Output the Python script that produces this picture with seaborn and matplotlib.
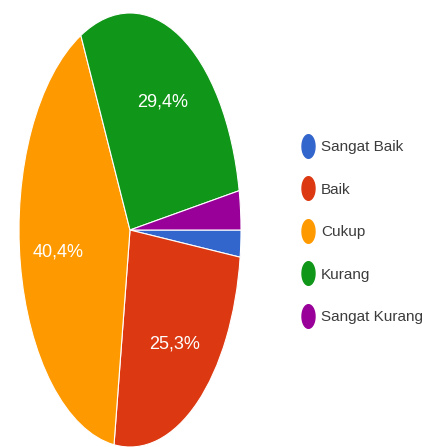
import numpy as np
import matplotlib
matplotlib.use("Agg")
import matplotlib.pyplot as plt
from matplotlib.path import Path
from matplotlib.lines import Line2D
import seaborn as sns

categories = ["Sangat Baik", "Baik", "Cukup", "Kurang", "Sangat Kurang"]
percent = [2.0, 25.3, 40.4, 29.4, 2.9]
colors = ["#3366CC", "#DC3912", "#FF9900", "#109618", "#990099"]

sns.set_theme(style="white")
plt.rcParams["font.family"] = ["Liberation Sans", "DejaVu Sans"]
palette = sns.color_palette(colors)

W, H = 422, 447
fig = plt.figure(figsize=(W / 100, H / 100), dpi=100)
fig.patch.set_facecolor("white")

# axes placed so the (stretched) pie spans x 19..241, y 13..447 px
ax = fig.add_axes([19 / W, 0 / H, 222 / W, 434 / H])
ax.axis("off")


def fmt(p):
    return (f"{p:.1f}".replace(".", ",") + "%") if p > 5 else ""


wedges, texts, autotexts = ax.pie(
    percent,
    colors=palette,
    startangle=0,
    counterclock=False,
    autopct=fmt,
    pctdistance=0.66,
    radius=1.0,
    wedgeprops=dict(edgecolor="white", linewidth=0.8),
    textprops=dict(color="white", fontsize=13),
)
ax.set_xlim(-1, 1)
ax.set_ylim(-1, 1)
ax.set_aspect("auto")

# vertically stretched ellipse marker for legend
t = np.linspace(0, 2 * np.pi, 60)
ell = Path(np.column_stack([0.55 * np.cos(t), np.sin(t)]), closed=True)

handles = [
    Line2D([], [], linestyle="none", marker=ell, markersize=17,
           markerfacecolor=c, markeredgecolor=c)
    for c in palette
]
leg = fig.legend(
    handles, categories,
    loc="upper left",
    bbox_to_anchor=(296 / W, 1 - 134 / H),
    frameon=False,
    fontsize=11,
    labelspacing=1.87,
    handlelength=0.8,
    handletextpad=0.45,
    borderaxespad=0,
)
for txt in leg.get_texts():
    txt.set_color("#3c3c3c")

fig.savefig("out.png", dpi=100, facecolor="white")
